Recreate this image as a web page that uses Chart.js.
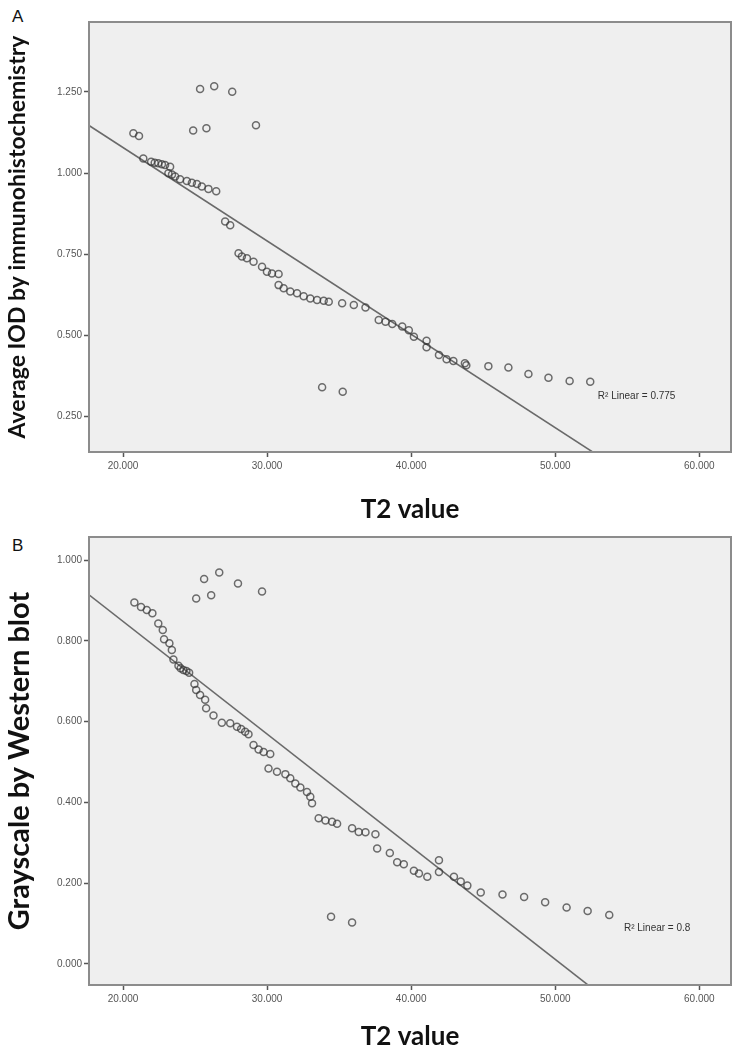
<!DOCTYPE html>
<html>
<head>
<meta charset="utf-8">
<script src="https://cdn.jsdelivr.net/npm/chart.js@4.4.1/dist/chart.umd.min.js"></script>
<style>
  body { margin: 0; background: #fff; width: 745px; height: 1052px; position: relative; overflow: hidden; }
  canvas { position: absolute; left: 0; }
  .panel { position: absolute; left: 12px; font: 17px "Liberation Sans", Arial, sans-serif; color: #111; }
</style>
</head>
<body>
<div class="panel" style="top:7px">A</div>
<div class="panel" style="top:536px">B</div>
<canvas id="chartA" width="745" height="525" style="top:0"></canvas>
<canvas id="chartB" width="745" height="527" style="top:525px"></canvas>
<script>
// shared x axis
const xTicks = [20, 30, 40, 50, 60];
const xRange = [17.64, 62.2];

// panel A: T2 value vs average IOD
const t2A = [25.35, 26.33, 27.58, 24.87, 25.79, 29.23, 20.72, 21.11,
  21.41, 21.95, 22.2, 22.45, 22.7, 22.92, 23.27, 23.15, 23.4, 23.62, 23.96, 24.43, 24.78, 25.13, 25.47, 25.93, 26.47,
  27.09, 27.44, 28.02, 28.25, 28.6, 29.06, 29.65, 29.99, 30.34, 30.8, 30.8, 31.15, 31.61, 32.08, 32.54,
  33.0, 33.47, 33.93, 34.28, 35.21, 36.02, 36.83, 37.75, 38.22, 38.69, 39.38, 39.84, 40.19,
  41.07, 41.07, 41.93, 42.46, 42.93, 43.73, 43.83, 45.36, 46.75, 48.14, 49.53, 51.0, 52.43, 33.82, 35.25];
const iodA = [1.259, 1.268, 1.251, 1.131, 1.138, 1.147, 1.123, 1.114,
  1.045, 1.035, 1.032, 1.030, 1.027, 1.025, 1.019, 0.999, 0.995, 0.989, 0.981, 0.975, 0.970, 0.966, 0.958, 0.951, 0.944,
  0.850, 0.839, 0.752, 0.742, 0.737, 0.726, 0.711, 0.695, 0.690, 0.688, 0.654, 0.644, 0.634, 0.629, 0.620,
  0.613, 0.608, 0.606, 0.603, 0.598, 0.593, 0.585, 0.546, 0.541, 0.534, 0.526, 0.515, 0.495,
  0.482, 0.462, 0.438, 0.425, 0.420, 0.413, 0.407, 0.404, 0.400, 0.380, 0.368, 0.358, 0.356, 0.339, 0.325];
const yTicksA = [0.25, 0.5, 0.75, 1.0, 1.25];
const yRangeA = [0.139, 1.466];
const fitA = [1.655, -0.02882]; // intercept, slope
const r2A = 'R\u00b2 Linear = 0.775';

// panel B: T2 value vs Western blot grayscale
const t2B = [25.63, 26.68, 27.98, 29.65, 25.08, 26.12,
  20.79, 21.25, 21.65, 22.04, 22.45, 22.76, 22.85, 23.22, 23.39, 23.5, 23.85, 24.0, 24.19, 24.4, 24.59,
  24.96, 25.08, 25.35, 25.7, 25.77, 26.28, 26.86, 27.44, 27.91, 28.2, 28.48, 28.71,
  29.06, 29.41, 29.76, 30.22, 30.1, 30.69, 31.27, 31.61, 31.96, 32.31, 32.77, 33.0, 33.12,
  33.58, 34.05, 34.51, 34.86, 35.9, 36.36, 36.83, 37.52, 37.64, 38.52, 39.03, 39.49, 40.19, 40.54, 41.12,
  41.93, 41.93, 42.97, 43.44, 43.9, 44.83, 46.34, 47.84, 49.3, 50.79, 52.25, 53.75, 34.44, 35.9];
const grayB = [0.953, 0.969, 0.942, 0.922, 0.905, 0.913,
  0.895, 0.884, 0.876, 0.868, 0.843, 0.827, 0.804, 0.794, 0.777, 0.754, 0.738, 0.732, 0.728, 0.725, 0.721,
  0.693, 0.678, 0.666, 0.654, 0.633, 0.615, 0.597, 0.596, 0.587, 0.582, 0.575, 0.569,
  0.542, 0.531, 0.525, 0.520, 0.484, 0.476, 0.470, 0.460, 0.447, 0.437, 0.426, 0.414, 0.398,
  0.361, 0.355, 0.352, 0.347, 0.336, 0.327, 0.326, 0.321, 0.286, 0.275, 0.252, 0.247, 0.231, 0.224, 0.216,
  0.257, 0.228, 0.216, 0.204, 0.194, 0.177, 0.172, 0.166, 0.153, 0.140, 0.131, 0.121, 0.117, 0.103];
const yTicksB = [0, 0.2, 0.4, 0.6, 0.8, 1.0];
const yRangeB = [-0.052, 1.057];
const fitB = [1.406, -0.02789];
const r2B = 'R\u00b2 Linear = 0.8';

const plotFrame = {
  id: 'plotFrame',
  beforeDatasetsDraw(chart) {
    const a = chart.chartArea, ctx = chart.ctx;
    ctx.save();
    ctx.fillStyle = '#efefef';
    ctx.fillRect(a.left, a.top, a.right - a.left, a.bottom - a.top);
    ctx.restore();
  },
  afterDraw(chart, args, opts) {
    const a = chart.chartArea, ctx = chart.ctx;
    ctx.save();
    ctx.strokeStyle = '#8c8c8c';
    ctx.lineWidth = 2;
    ctx.strokeRect(a.left, a.top, a.right - a.left, a.bottom - a.top);
    // R² label
    const x = chart.scales.x.getPixelForValue(opts.lx);
    const y = chart.scales.y.getPixelForValue(opts.ly);
    ctx.fillStyle = '#333';
    ctx.font = '10px "Liberation Sans", Arial, sans-serif';
    ctx.textBaseline = 'middle';
    ctx.fillText(opts.text, x, y);
    ctx.restore();
  }
};

function makeChart(id, xs, ys, fit, yTicks, yRange, yTitle, yTitleSize, yTitlePad, padTop, xAxisH, xTitlePad, label) {
  const pts = xs.map((x, i) => ({ x: x, y: ys[i] }));
  const fitPts = xRange.map(x => ({ x: x, y: fit[0] + fit[1] * x }));
  return new Chart(document.getElementById(id), {
    type: 'scatter',
    data: {
      datasets: [{
        data: pts,
        pointStyle: 'circle',
        pointRadius: 3.5,
        pointBorderWidth: 1.5,
        pointBorderColor: 'rgba(55,55,55,0.72)',
        pointBackgroundColor: 'rgba(0,0,0,0)'
      }, {
        type: 'line',
        data: fitPts,
        borderColor: '#6a6a6a',
        borderWidth: 1.6,
        pointRadius: 0,
        fill: false
      }]
    },
    options: {
      responsive: false,
      animation: false,
      events: [],
      layout: { padding: { top: padTop, right: 14, left: 0, bottom: 0 } },
      plugins: {
        legend: { display: false },
        tooltip: { enabled: false },
        plotFrame: label
      },
      scales: {
        x: {
          type: 'linear',
          min: xRange[0], max: xRange[1],
          afterBuildTicks: s => { s.ticks = xTicks.map(v => ({ value: v })); },
          afterFit: s => { s.height = xAxisH; },
          ticks: {
            callback: v => v.toFixed(3),
            font: { family: '"Liberation Sans", Arial, sans-serif', size: 10 },
            color: '#555', padding: 3, maxRotation: 0, autoSkip: false
          },
          grid: { drawOnChartArea: false, drawTicks: true, tickLength: 5, tickColor: '#555', tickWidth: 1.5 },
          border: { display: true, color: '#555', width: 2 },
          title: {
            display: true, text: 'T2 value', color: '#111',
            font: { family: 'Lato, "Open Sans", sans-serif', size: 26, weight: 'bold' },
            padding: { top: xTitlePad, bottom: 0 }
          }
        },
        y: {
          type: 'linear',
          min: yRange[0], max: yRange[1],
          afterBuildTicks: s => { s.ticks = yTicks.map(v => ({ value: v })); },
          afterFit: s => { s.width = 89; },
          ticks: {
            callback: v => v.toFixed(3),
            font: { family: '"Liberation Sans", Arial, sans-serif', size: 10 },
            color: '#555', padding: 2, autoSkip: false
          },
          grid: { drawOnChartArea: false, drawTicks: true, tickLength: 5, tickColor: '#555', tickWidth: 1.5 },
          border: { display: true, color: '#555', width: 2 },
          title: {
            display: true, text: yTitle, color: '#111',
            font: { family: 'Lato, "Open Sans", sans-serif', size: yTitleSize, weight: 'bold' },
            padding: { top: yTitlePad, bottom: 0 }
          }
        }
      }
    },
    plugins: [plotFrame]
  });
}

makeChart('chartA', t2A, iodA, fitA, yTicksA, yRangeA, 'Average IOD by immunohistochemistry', 23, 4, 22, 73, 4.4,
  { text: r2A, lx: 52.96, ly: 0.312 });
makeChart('chartB', t2B, grayB, fitB, yTicksB, yRangeB, 'Grayscale by Western blot', 29, 2.6, 12, 67, 6.4,
  { text: r2B, lx: 54.77, ly: 0.089 });
</script>
</body>
</html>
